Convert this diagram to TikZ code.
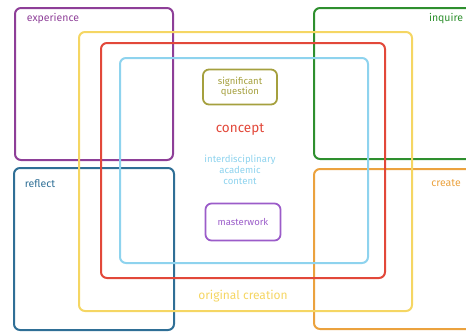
\documentclass[tikz,border=0pt]{standalone}
\usepackage{fontspec}
\setmainfont{Fira Sans}
\definecolor{cpurple}{HTML}{8E3F98}
\definecolor{cgreen}{HTML}{2E8F2E}
\definecolor{cblue}{HTML}{2F6F96}
\definecolor{corange}{HTML}{EBA23E}
\definecolor{cyellow}{HTML}{F5D663}
\definecolor{cred}{HTML}{E2483A}
\definecolor{clblue}{HTML}{8ED3EE}
\definecolor{colive}{HTML}{A5A03E}
\definecolor{cmaster}{HTML}{9B5CC9}
\tikzset{
  frame/.style={line width=2pt, rounded corners=6pt},
  lbl/.style={font=\fontsize{10.5}{11}\selectfont, inner sep=0pt},
  inner/.style={line width=1.8pt, rounded corners=6pt, align=center, font=\fontsize{9.5}{10.5}\selectfont}
}
\begin{document}
\begin{tikzpicture}[x=1pt,y=-1pt]
\useasboundingbox (0,0) rectangle (466,333);
\clip (0,0) rectangle (466,333);
% outer quadrant boxes
\draw[frame, cpurple] (15,8) rectangle (173,160);
\draw[frame, cgreen] (314,8) rectangle (480,159);
\draw[frame, cblue] (14,168) rectangle (174,330);
\draw[frame, corange] (314,169) rectangle (480,329);
% nested boxes
\draw[frame, cyellow] (79,32) rectangle (412,311);
\draw[frame, cred] (101,43) rectangle (385,278);
\draw[frame, clblue] (120,58) rectangle (368,263);
% labels
\node[lbl, text=cpurple] (exp) at (53,19) {experience};
\node[lbl, text=cgreen] (inq) at (446,19) {inquire};
\node[lbl, text=cblue] (refl) at (40,184) {reflect};
\node[lbl, text=corange] (cre) at (446,183) {create};
\node[lbl, text=cyellow, font=\fontsize{12}{13}\selectfont] (orig) at (243,296) {original creation};
\node[inner, draw=colive, text=colive, minimum width=74pt, minimum height=35pt] (sq) at (240,87) {significant\\question};
\node[font=\fontsize{13.5}{14}\selectfont, text=cred, inner sep=0pt] (con) at (240,129) {concept};
\node[font=\fontsize{9.6}{11}\selectfont, text=clblue, align=center, inner sep=0pt] (idc) at (240,170) {interdisciplinary\\academic\\content};
\node[inner, draw=cmaster, text=cmaster, minimum width=75pt, minimum height=37pt] (mw) at (243,222) {masterwork};
\end{tikzpicture}
\end{document}
